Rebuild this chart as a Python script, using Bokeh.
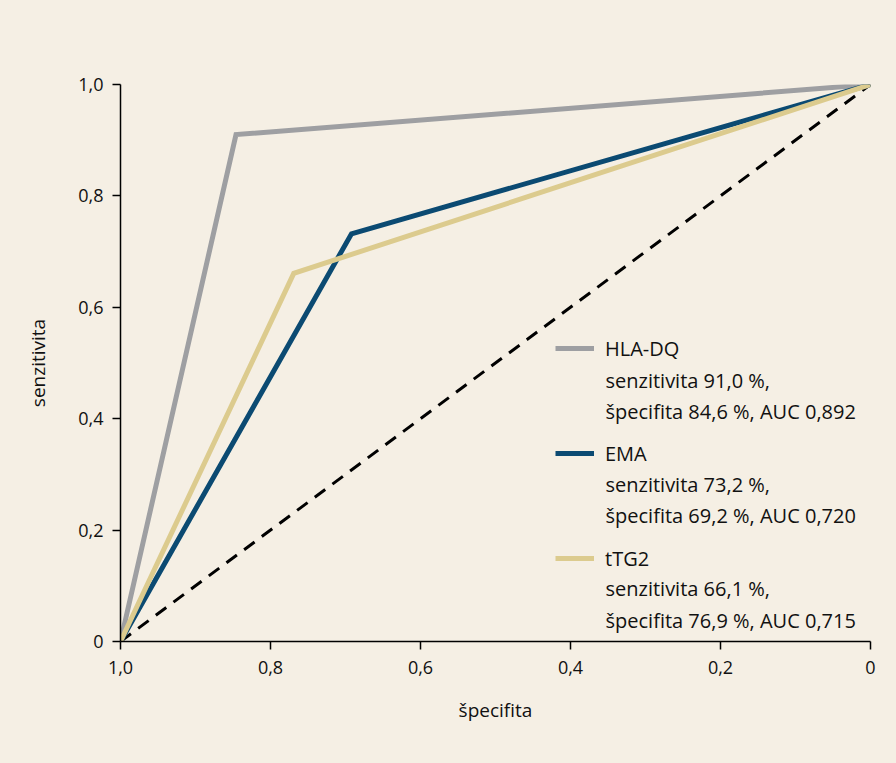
from bokeh.plotting import figure
from bokeh.models import Range1d, Legend, LegendItem, Label, FixedTicker
from bokeh.embed import file_html
from bokeh.resources import INLINE

# ---- data ----
names = ["HLA-DQ", "EMA", "tTG2"]
specificity = [0.846, 0.692, 0.769]
sensitivity = [0.910, 0.732, 0.661]
details = [
    ["senzitivita 91,0 %,", "špecifita 84,6 %, AUC 0,892"],
    ["senzitivita 73,2 %,", "špecifita 69,2 %, AUC 0,720"],
    ["senzitivita 66,1 %,", "špecifita 76,9 %, AUC 0,715"],
]
colors = ["#9e9fa2", "#0b4a72", "#dccb8e"]
ticks = [0, 0.2, 0.4, 0.6, 0.8, 1.0]
tick_labels = {0: "0", 0.2: "0,2", 0.4: "0,4", 0.6: "0,6", 0.8: "0,8", 1.0: "1,0"}

BG = "#f5efe4"
FONT = "Open Sans"
TXT = "#111111"

p = figure(width=880, height=747, output_backend="svg", toolbar_location=None,
           x_range=Range1d(1.0, 0.0), y_range=Range1d(0.0, 1.0),
           min_border_left=120, min_border_right=10, min_border_top=84, min_border_bottom=106,
           background_fill_color=BG, border_fill_color=BG)
p.outline_line_color = None
p.grid.visible = False

# diagonal reference
p.line([1.0, 0.0], [0.0, 1.0], line_color="black", line_width=3, line_dash="13 9")

renderers = []
for n, sp, se, c in zip(names, specificity, sensitivity, colors):
    r = p.line([1.0, sp, 0.0], [0.0, se, 1.0], line_color=c, line_width=5, line_join="miter")
    renderers.append(r)

for ax in (p.xaxis[0], p.yaxis[0]):
    ax.ticker = FixedTicker(ticks=ticks)
    ax.major_label_overrides = tick_labels
    ax.minor_tick_line_color = None
    ax.major_tick_in = 0
    ax.major_tick_out = 8
    ax.axis_line_color = "black"
    ax.axis_line_width = 1.5
    ax.major_tick_line_width = 1.5
    ax.major_label_text_font = FONT
    ax.major_label_text_font_size = "18px"
    ax.major_label_text_color = TXT
    ax.axis_label_text_font = FONT
    ax.axis_label_text_font_size = "19px"
    ax.axis_label_text_font_style = "normal"
    ax.axis_label_text_color = TXT

p.xaxis.axis_label = "špecifita"
p.yaxis.axis_label = "senzitivita"
p.xaxis.major_label_standoff = 11
p.yaxis.major_label_standoff = 9
p.xaxis.axis_label_standoff = 20
p.yaxis.axis_label_standoff = 24

legend = Legend(items=[LegendItem(label=n, renderers=[r]) for n, r in zip(names, renderers)],
                location=(435, 67), orientation="vertical",
                padding=0, margin=0, spacing=73,
                glyph_width=39, glyph_height=32, label_height=32, label_standoff=11,
                label_text_font=FONT, label_text_font_size="20px", label_text_color=TXT,
                background_fill_alpha=0, border_line_alpha=0)
p.add_layout(legend, "center")

# detail text lines next to legend entries
FRAME_LEFT, FRAME_W, FRAME_BOTTOM, FRAME_H = 120, 750, 641, 557
line_px = [(380, 411), (484, 515), (588, 620)]
for det, pys in zip(details, line_px):
    for txt, py in zip(det, pys):
        xd = 1.0 - (605 - FRAME_LEFT) / FRAME_W
        yd = (FRAME_BOTTOM - py) / FRAME_H
        p.add_layout(Label(x=xd, y=yd, text=txt, text_font=FONT, text_font_size="20px",
                           text_color=TXT, text_baseline="middle", text_align="left"))

html = file_html(p, INLINE)
html = html.replace("<body>", '<body style="background-color:%s">' % BG, 1)
html = html.replace("<html", '<html style="background-color:%s"' % BG, 1)
open("out.html", "w").write(html)
